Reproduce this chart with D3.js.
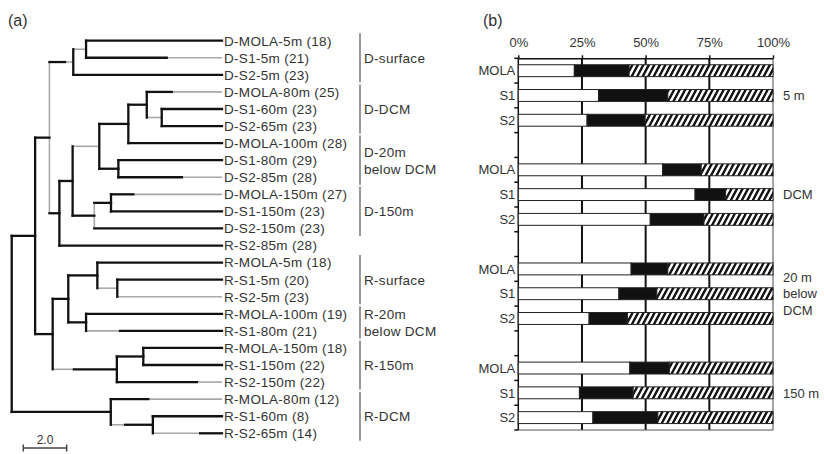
<!DOCTYPE html>
<html>
<head>
<meta charset="utf-8">
<script src="https://cdn.jsdelivr.net/npm/d3@7"></script>
<style>
  body { margin: 0; background: #fff; }
  text { font-family: Arial, "Liberation Sans", sans-serif; fill: #333; }
</style>
</head>
<body>
<svg id="chart" width="824" height="454"></svg>
<script>
// ---- panel (a): dendrogram ----
const leafNames = ['D-MOLA-5m', 'D-S1-5m', 'D-S2-5m', 'D-MOLA-80m', 'D-S1-60m', 'D-S2-65m',
  'D-MOLA-100m', 'D-S1-80m', 'D-S2-85m', 'D-MOLA-150m', 'D-S1-150m', 'D-S2-150m',
  'R-S2-85m', 'R-MOLA-5m', 'R-S1-5m', 'R-S2-5m', 'R-MOLA-100m', 'R-S1-80m',
  'R-MOLA-150m', 'R-S1-150m', 'R-S2-150m', 'R-MOLA-80m', 'R-S1-60m', 'R-S2-65m'];
const leafCounts = [18, 21, 23, 25, 23, 23, 28, 29, 28, 27, 23, 23, 28, 18, 20, 23, 19, 21, 18, 22, 22, 12, 8, 14];
const leafParents = ['A', 'A', 'B', 'H', 'I', 'I', 'G', 'J', 'J', 'L', 'L', 'K',
  'D', 'P', 'Q', 'Q', 'R', 'R', 'T', 'T', 'S', 'U', 'V', 'V'];
const leafDist = 9.7;

// internal nodes, distance measured from the root
const nodeIds = ['root', 'M', 'U', 'C', 'N', 'B', 'D', 'A', 'E', 'F', 'K', 'G', 'J', 'H', 'I', 'L', 'O', 'S', 'P', 'R', 'Q', 'T', 'V'];
const nodeParents = [null, 'root', 'root', 'M', 'M', 'C', 'C', 'B', 'D', 'E', 'E', 'F', 'F', 'G', 'H', 'K', 'N', 'N', 'O', 'O', 'P', 'S', 'U'];
const nodeDist = [0, 1.08, 4.57, 1.74, 1.89, 2.84, 2.20, 3.43, 2.81, 4.04, 3.81, 5.38, 4.92, 6.23, 6.92, 4.58, 2.61, 4.85, 3.95, 3.43, 4.87, 6.07, 6.51];

const groupLines = [['D-surface'], ['D-DCM'], ['D-20m', 'below DCM'], ['D-150m'],
  ['R-surface'], ['R-20m', 'below DCM'], ['R-150m'], ['R-DCM']];
const groupFirst = ['D-MOLA-5m', 'D-MOLA-80m', 'D-MOLA-100m', 'D-MOLA-150m', 'R-MOLA-5m', 'R-MOLA-100m', 'R-MOLA-150m', 'R-MOLA-80m'];
const groupLast = ['D-S2-5m', 'D-S2-65m', 'D-S2-85m', 'D-S2-150m', 'R-S2-5m', 'R-S1-80m', 'R-S2-150m', 'R-S2-65m'];
const scaleBarValue = 2.0;

// ---- panel (b): stacked bars ----
const depthNames = [['5 m'], ['DCM'], ['20 m', 'below', 'DCM'], ['150 m']];
const siteNames = ['MOLA', 'S1', 'S2'];
// percent, per depth x site (row order)
const whiteShare = [22.0, 31.5, 27.0, 56.7, 69.4, 51.8, 44.3, 39.5, 27.8, 43.8, 24.0, 29.3];
const blackShare = [21.5, 27.2, 22.8, 15.1, 12.0, 21.1, 14.4, 14.9, 15.1, 15.5, 21.1, 25.5];
const percentTicks = [0, 25, 50, 75, 100];

// how the original shades its branches (grey vs black pieces)
const GREY = '#a8a8a8';
const greyBranch = new Set(['A', 'F', 'I', 'Q', 'R-S2-5m']);
const greyVertical = new Set(['C', 'K']);
const branchSplit = { // [colour before, split distance, colour after]
  'B': ['k', 2.46, 'g'],
  'D-S1-5m': ['k', 7.15, 'g'],
  'D-MOLA-80m': ['k', 7.38, 'g'],
  'D-S2-85m': ['k', 7.85, 'g'],
  'D-MOLA-150m': ['k', 5.61, 'g'],
  'R-S1-80m': ['g', 5.0, 'k'],
  'S': ['g', 2.87, 'k'],
  'R-S2-150m': ['k', 8.54, 'g'],
  'R-MOLA-80m': ['k', 6.30, 'g'],
  'V': ['g', 5.23, 'k'],
  'R-S2-65m': ['g', 8.69, 'k']
};

const svg = d3.select('#chart');

// ================= (a) =================
svg.append('text').attr('x', 8).attr('y', 26).style('font-size', '16px').text('(a)');

const table = nodeIds.map((id, i) => ({ id, parent: nodeParents[i], dist: nodeDist[i] }))
  .concat(leafNames.map((id, i) => ({ id, parent: leafParents[i], dist: leafDist, n: leafCounts[i] })));
const root = d3.stratify().id(d => d.id).parentId(d => d.parent)(table);

const xTree = d3.scaleLinear().domain([0, leafDist]).range([11.7, 222]);
const yLeaf = d3.scalePoint().domain(leafNames).range([40.7, 433.3]);

root.eachAfter(n => {
  if (n.children) {
    const ys = n.children.map(c => c.py);
    n.py = (d3.min(ys) + d3.max(ys)) / 2;
  } else {
    n.py = yLeaf(n.id);
  }
  n.px = xTree(n.data.dist);
});

const segs = [];
root.descendants().forEach(n => {
  if (n.parent) {
    const x0 = n.parent.px, x1 = n.px;
    const sp = branchSplit[n.id];
    if (sp) {
      const xs = xTree(sp[1]);
      segs.push({ x1: x0, x2: xs, y1: n.py, y2: n.py, c: sp[0] });
      segs.push({ x1: xs, x2: x1, y1: n.py, y2: n.py, c: sp[2] });
    } else {
      segs.push({ x1: x0, x2: x1, y1: n.py, y2: n.py, c: greyBranch.has(n.id) ? 'g' : 'k' });
    }
  }
  if (n.children) {
    const ys = n.children.map(c => c.py);
    segs.push({ x1: n.px, x2: n.px, y1: d3.min(ys), y2: d3.max(ys), c: greyVertical.has(n.id) ? 'g' : 'k' });
  }
});

const tree = svg.append('g');
tree.selectAll('line.g')
  .data(segs.filter(s => s.c === 'g'))
  .join('line')
  .attr('x1', d => d.x1).attr('x2', d => d.x2)
  .attr('y1', d => d.y1).attr('y2', d => d.y2)
  .attr('stroke', GREY).attr('stroke-width', 1.6);
tree.selectAll('line.k')
  .data(segs.filter(s => s.c === 'k'))
  .join('line')
  .attr('x1', d => d.x1).attr('x2', d => d.x2)
  .attr('y1', d => d.y1).attr('y2', d => d.y2)
  .attr('stroke', '#111').attr('stroke-width', 2.3)
  .attr('stroke-linecap', 'square');

// leaf labels
tree.selectAll('text.leaf')
  .data(root.leaves())
  .join('text')
  .attr('x', 224)
  .attr('y', d => d.py)
  .attr('dy', '0.36em')
  .style('font-size', '13.5px')
  .style('letter-spacing', '0.3px')
  .text(d => `${d.id} (${d.data.n})`);

// cluster brackets
const groups = svg.append('g');
groupLines.forEach((lines, i) => {
  const y0 = yLeaf(groupFirst[i]) - 7.5, y1 = yLeaf(groupLast[i]) + 7.5;
  groups.append('line')
    .attr('x1', 360).attr('x2', 360).attr('y1', y0).attr('y2', y1)
    .attr('stroke', '#999').attr('stroke-width', 2);
  const mid = (yLeaf(groupFirst[i]) + yLeaf(groupLast[i])) / 2;
  lines.forEach((t, j) => {
    groups.append('text')
      .attr('x', 364)
      .attr('y', mid + (j - (lines.length - 1) / 2) * 17)
      .attr('dy', '0.36em')
      .style('font-size', '13.5px')
      .style('letter-spacing', '0.3px')
      .text(t);
  });
});

// scale bar
const sbX0 = 23.3, sbX1 = sbX0 + (xTree(scaleBarValue) - xTree(0));
const sb = svg.append('g').attr('stroke', '#444').attr('stroke-width', 1.5);
sb.append('line').attr('x1', sbX0).attr('x2', sbX1).attr('y1', 448).attr('y2', 448);
sb.append('line').attr('x1', sbX0).attr('x2', sbX0).attr('y1', 444.5).attr('y2', 451.5);
sb.append('line').attr('x1', sbX1).attr('x2', sbX1).attr('y1', 444.5).attr('y2', 451.5);
svg.append('text').attr('x', (sbX0 + sbX1) / 2).attr('y', 444)
  .attr('text-anchor', 'middle').style('font-size', '12px').text(scaleBarValue.toFixed(1));

// ================= (b) =================
svg.append('text').attr('x', 483).attr('y', 26).style('font-size', '16px').text('(b)');

const rows = [];
depthNames.forEach((d, di) => {
  siteNames.forEach((s, si) => rows.push({ key: di + '|' + s, site: s, depth: di, idx: di * 3 + si }));
  if (di < depthNames.length - 1) rows.push({ key: 'gap' + di, gap: true });
});

const yTop = 58.3, yBottom = 430;
const x = d3.scaleLinear().domain([0, 100]).range([518.3, 773]);
const y = d3.scaleBand().domain(rows.map(r => r.key)).range([yTop, yBottom])
  .paddingInner(0.52).paddingOuter(0.26);
const step = y.step();

const defs = svg.append('defs');
const pat = defs.append('pattern')
  .attr('id', 'hatch').attr('patternUnits', 'userSpaceOnUse')
  .attr('width', 5.5).attr('height', 20)
  .attr('patternTransform', 'skewX(-28)');
pat.append('rect').attr('width', 5.5).attr('height', 20).attr('fill', '#fff');
pat.append('rect').attr('x', 0).attr('width', 2.7).attr('height', 20).attr('fill', '#111');

const pb = svg.append('g');

// gridlines + frame
pb.selectAll('line.grid')
  .data([25, 50, 75])
  .join('line')
  .attr('x1', d => x(d)).attr('x2', d => x(d))
  .attr('y1', yTop).attr('y2', yBottom)
  .attr('stroke', '#111').attr('stroke-width', 2);
pb.append('line').attr('x1', x(100)).attr('x2', x(100)).attr('y1', yTop).attr('y2', yBottom)
  .attr('stroke', '#888').attr('stroke-width', 1.5);
pb.append('line').attr('x1', x(0)).attr('x2', x(100)).attr('y1', yBottom).attr('y2', yBottom)
  .attr('stroke', '#555').attr('stroke-width', 1.2);

// top axis
const xAxis = d3.axisTop(x).tickValues(percentTicks).tickFormat(d => d + '%').tickSize(3).tickSizeOuter(0);
const gx = pb.append('g').attr('transform', `translate(0,${yTop})`).call(xAxis);
gx.select('.domain').attr('stroke', '#111').attr('stroke-width', 1.5);
gx.selectAll('.tick line').attr('stroke', '#111').attr('stroke-width', 1.5);
gx.selectAll('.tick text').attr('y', -11.5).style('font-size', '13px').style('font-family', 'Arial, "Liberation Sans", sans-serif').attr('fill', '#333');

// left axis: ticks between categories
pb.append('line').attr('x1', x(0)).attr('x2', x(0)).attr('y1', yTop).attr('y2', yBottom)
  .attr('stroke', '#111').attr('stroke-width', 1.5);
pb.selectAll('line.ytick')
  .data(d3.range(rows.length + 1))
  .join('line')
  .attr('x1', x(0) - 4).attr('x2', x(0))
  .attr('y1', i => yTop + i * step).attr('y2', i => yTop + i * step)
  .attr('stroke', '#111').attr('stroke-width', 1.5);
pb.selectAll('text.site')
  .data(rows.filter(r => !r.gap))
  .join('text')
  .attr('x', x(0) - 3)
  .attr('y', r => y(r.key) + y.bandwidth() / 2)
  .attr('dy', '0.36em')
  .attr('text-anchor', 'end')
  .style('font-size', '13px')
  .text(r => r.site);

// stacked bars
const barRows = rows.filter(r => !r.gap);
const segData = [];
barRows.forEach(r => {
  const w = whiteShare[r.idx], b = blackShare[r.idx];
  segData.push({ r, x0: 0, x1: w, fill: '#fff' });
  segData.push({ r, x0: w, x1: w + b, fill: '#111' });
  segData.push({ r, x0: w + b, x1: 100, fill: 'url(#hatch)' });
});
pb.selectAll('rect.seg')
  .data(segData)
  .join('rect')
  .attr('x', d => x(d.x0))
  .attr('width', d => x(d.x1) - x(d.x0))
  .attr('y', d => y(d.r.key))
  .attr('height', y.bandwidth())
  .attr('fill', d => d.fill)
  .attr('stroke', '#222').attr('stroke-width', 1);

// depth labels on the right
depthNames.forEach((lines, di) => {
  const mid = y(di + '|S1') + y.bandwidth() / 2;
  lines.forEach((t, j) => {
    pb.append('text')
      .attr('x', 783)
      .attr('y', mid + (j - (lines.length - 1) / 2) * 16.5)
      .attr('dy', '0.36em')
      .style('font-size', '13px')
      .text(t);
  });
});
</script>
</body>
</html>
